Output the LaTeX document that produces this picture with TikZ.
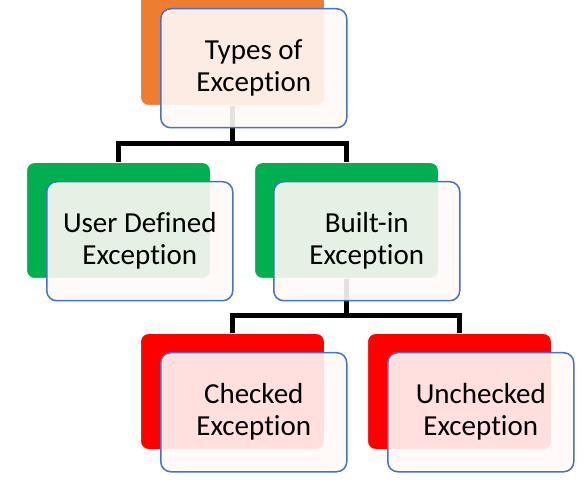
\documentclass[tikz,border=0pt]{standalone}
\usepackage{fontspec}
\setmainfont[Ligatures=NoCommon]{Carlito}
\definecolor{orng}{RGB}{237,125,49}
\definecolor{grn}{RGB}{0,176,80}
\definecolor{rd}{RGB}{255,0,0}
\definecolor{bdr}{RGB}{68,114,196}
\definecolor{frontfill}{RGB}{255,249,247}
\begin{document}
\begin{tikzpicture}[x=1pt,y=-1pt]
\tikzset{
 back/.style={draw=white, line width=1pt, rounded corners=8pt, minimum width=184pt, minimum height=116pt, inner sep=0pt, anchor=north west},
 front/.style={draw=bdr, line width=1.5pt, fill=frontfill, fill opacity=0.9, text opacity=1, draw opacity=1, rounded corners=10pt, minimum width=186pt, minimum height=119pt, inner sep=0pt, anchor=north west, align=center, font=\fontsize{29}{32}\selectfont},
 link/.style={line width=5pt, line join=miter}
}
\useasboundingbox (0,0) rectangle (587,497);
\node[back, fill=orng] (o) at (140,-11) {};
\node[back, fill=grn] (g1) at (26,162) {};
\node[back, fill=grn] (g2) at (254,162) {};
\node[back, fill=rd] (r1) at (140,333) {};
\node[back, fill=rd] (r2) at (367,333) {};
\draw[link] (o.south) -- ++(0,37.5) -| (g1.north);
\draw[link] (o.south) -- ++(0,37.5) -| (g2.north);
\draw[link] (g2.south) -- ++(0,37) -| (r1.north);
\draw[link] (g2.south) -- ++(0,37) -| (r2.north);
\node[front] (t) at (160,8) {Types of\\Exception};
\node[front] (u) at (46,181) {User Defined\\Exception};
\node[front] (b) at (273,181) {Built-in\\Exception};
\node[front] (c) at (160,352) {Checked\\Exception};
\node[front] (n) at (387,352) {Unchecked\\Exception};
\end{tikzpicture}
\end{document}
